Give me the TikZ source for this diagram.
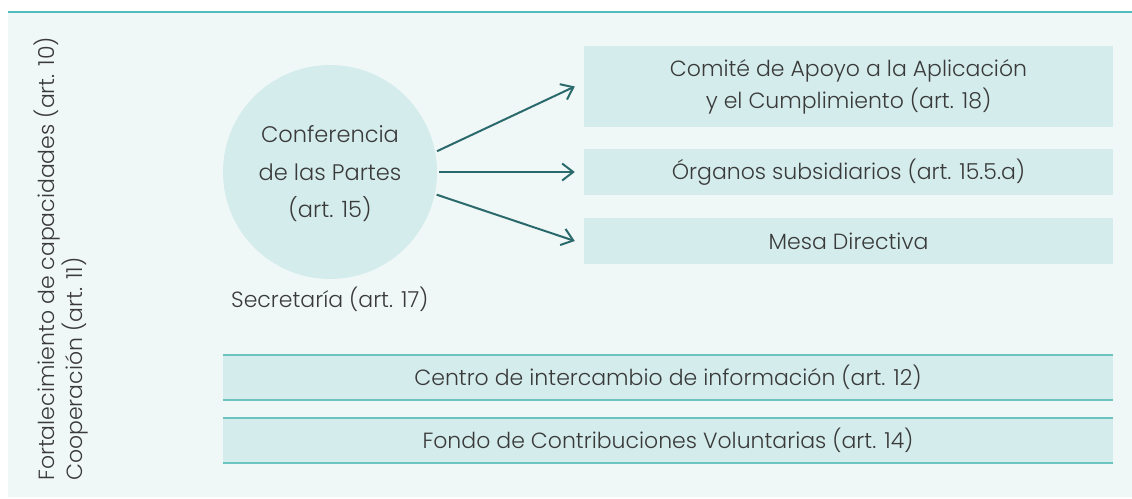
\documentclass[tikz,border=0pt]{standalone}
\usepackage{fontspec}
\setmainfont{Poppins}[UprightFont=* Light]
\usetikzlibrary{arrows.meta,calc}
\definecolor{panel}{HTML}{F0F8F7}
\definecolor{boxfill}{HTML}{D4ECEC}
\definecolor{teal}{HTML}{4FBDBB}
\definecolor{edge}{HTML}{6CC4C0}
\definecolor{arrowc}{HTML}{2B6A6C}
\definecolor{txt}{HTML}{3A3A3A}
\tikzset{
  lbl/.style={text=txt,font=\fontsize{22}{32}\selectfont,inner sep=0pt},
  rbox/.style={fill=boxfill,draw=none,minimum width=529pt,inner sep=0pt,text=txt,font=\fontsize{22}{32}\selectfont,align=center},
  wbox/.style={fill=boxfill,draw=none,minimum width=890pt,minimum height=45pt,inner sep=0pt,text=txt,font=\fontsize{22}{32}\selectfont},
  bline/.style={draw=edge,line width=2pt},
  arr/.style={draw=arrowc,line width=2pt,-{Straight Barb[length=11pt,width=17pt,line width=2pt]}},
}
\begin{document}
\begin{tikzpicture}[x=1pt,y=-1pt]
\useasboundingbox (0,0) rectangle (1132,498);
\fill[panel] (8,12) rectangle (1132,497);
\draw[teal,line width=2pt] (8,12) -- (1132,12);
% circle
\node[circle,fill=boxfill,minimum size=214pt,inner sep=0pt,outer sep=2pt] (cop) at (330,172) {};
\node[lbl,align=center,font=\fontsize{22.5}{37.5}\selectfont] (coptxt) at (330,174) {Conferencia\\de las Partes\\(art. 15)};
\node[lbl,anchor=base west] (sec) at (231,307) {Secretaría (art. 17)};
% right boxes
\node[rbox,minimum height=81pt] (b1) at (848.5,86.5) {Comité de Apoyo a la Aplicación\\y el Cumplimiento (art. 18)};
\node[rbox,minimum height=46pt] (b2) at (848.5,172) {Órganos subsidiarios (art. 15.5.a)};
\node[rbox,minimum height=46pt] (b3) at (848.5,241) {Mesa Directiva};
% arrows
\draw[arr] (cop.11) -- ([xshift=-9pt]b1.west);
\draw[arr] (cop.east) -- ([xshift=-9pt]b2.west);
\draw[arr] (cop.-12) -- ([xshift=-9pt]b3.west);
% wide boxes
\node[wbox] (b4) at (668,377.5) {Centro de intercambio de información (art. 12)};
\node[wbox] (b5) at (668,440.5) {Fondo de Contribuciones Voluntarias (art. 14)};
\draw[bline] (b4.north west) -- (b4.north east);
\draw[bline] (b4.south west) -- (b4.south east);
\draw[bline] (b5.north west) -- (b5.north east);
\draw[bline] (b5.south west) -- (b5.south east);
% vertical labels
\node[lbl,rotate=90,anchor=west] (fort) at (47,481) {Fortalecimiento de capacidades (art. 10)};
\node[lbl,rotate=90,anchor=west] (coop) at (75,481) {Cooperación (art. 11)};
\end{tikzpicture}
\end{document}
